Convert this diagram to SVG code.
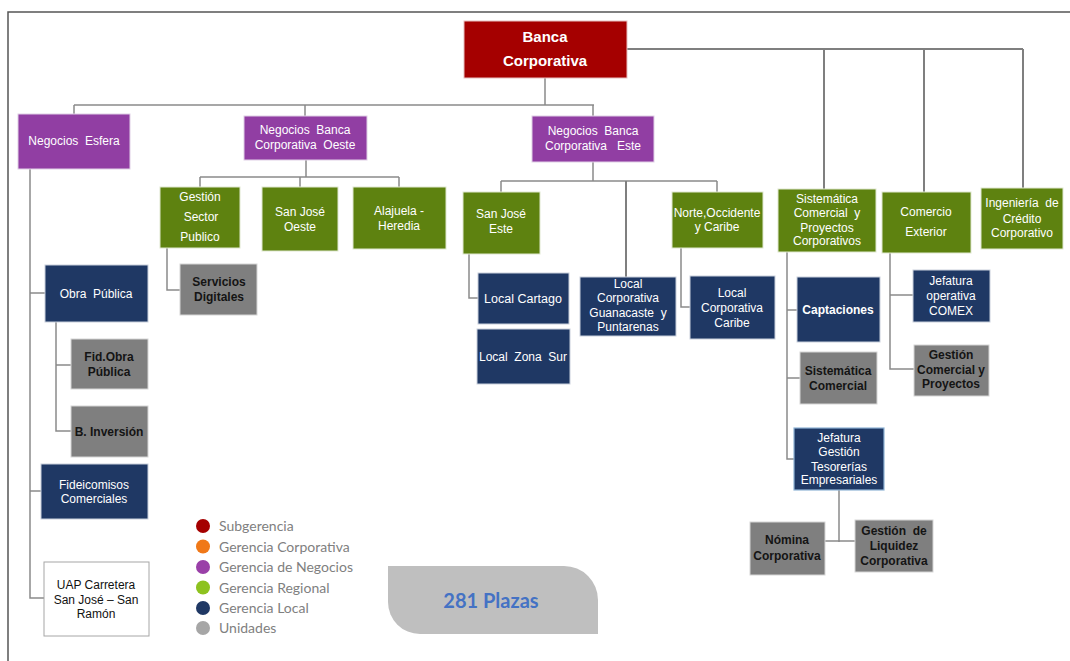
<svg xmlns="http://www.w3.org/2000/svg" width="1070" height="661" viewBox="0 0 1070 661">
<style>
.n text{font-family:"Liberation Sans",Arial,sans-serif;font-size:12px;fill:#fff;text-anchor:middle;white-space:pre}
.n text.b{font-weight:bold;fill:#141414}
.n text.bw{font-weight:bold;fill:#fff}
.red{fill:#A50000;stroke:#e6c0c0;stroke-width:1}
.pur{fill:#913EA3;stroke:#e0d0e6;stroke-width:1}
.grn{fill:#5E8210;stroke:#dfe8cf;stroke-width:1}
.nav{fill:#1F3864;stroke:#c9d0dc;stroke-width:1}
.gry{fill:#7F7F7F;stroke:#d6d6d6;stroke-width:1}
.c path{fill:none;stroke:#8a8a8a;stroke-width:1.5}
.c path.t{stroke:#7f7f7f;stroke-width:2}
.lg text{font-family:Lato,"Open Sans",sans-serif;font-size:14px;fill:#808080}
</style>
<rect width="1070" height="661" fill="#fff"/>
<path d="M8,661 V12 H1070" fill="none" stroke="#555" stroke-width="1.5"/>

<g class="c" id="connectors">
<path class="t" d="M622,49 H1023 M824,49 V190 M924,49 V193 M1023,49 V195"/>
<path d="M545,78 V105 M74,105 H594 M74,105 V114 M305,105 V116 M593,105 V116"/>
<path d="M306,160 V177 M200,177 H399 M200,177 V187 M300,177 V187 M399,177 V187"/>
<path d="M593,162 V181 M501,181 H717 M501,181 V192 M717,181 V192"/>
<path class="t" d="M626,181 V277"/>
<path d="M30,169 V598 H44 M30,293 H45 M30,491 H41"/>
<path d="M56,322 V431 H71 M56,365 H71"/>
<path d="M167,248 V290 H180"/>
<path d="M469,254 V298 H478"/>
<path d="M681,248 V307 H690"/>
<path d="M787,252 V459 H794 M787,310 H797 M787,378 H800"/>
<path d="M890,253 V369 H914 M890,295 H913"/>
<path d="M839,490 V542 M825,541 H855"/>
</g>

<g class="n" id="banca-corporativa"><rect class="red" x="464" y="21" width="163" height="57"/><text class="bw" x="545" y="42" style="font-size:15px">Banca</text><text class="bw" x="545" y="66" style="font-size:15px">Corporativa</text></g>

<g class="n" id="negocios-esfera"><rect class="pur" x="18" y="114" width="112" height="55"/><text x="74" y="145">Negocios  Esfera</text></g>
<g class="n" id="negocios-oeste"><rect class="pur" x="244" y="116" width="123" height="44"/><text x="305" y="134">Negocios  Banca</text><text x="305" y="149">Corporativa  Oeste</text></g>
<g class="n" id="negocios-este"><rect class="pur" x="532" y="116" width="122" height="46"/><text x="593" y="135">Negocios  Banca</text><text x="593" y="149.5">Corporativa   Este</text></g>

<g class="n" id="gestion-sector-publico"><rect class="grn" x="160" y="187" width="80" height="61"/><text x="200" y="201">Gestión</text><text x="201" y="221">Sector</text><text x="200" y="241">Publico</text></g>
<g class="n" id="san-jose-oeste"><rect class="grn" x="262" y="187" width="76" height="64"/><text x="300" y="216">San José</text><text x="300" y="231">Oeste</text></g>
<g class="n" id="alajuela-heredia"><rect class="grn" x="353" y="187" width="93" height="62"/><text x="399" y="215">Alajuela -</text><text x="399" y="230">Heredia</text></g>
<g class="n" id="san-jose-este"><rect class="grn" x="463" y="192" width="77" height="62"/><text x="501" y="218">San José</text><text x="501" y="233">Este</text></g>
<g class="n" id="norte-occidente-caribe"><rect class="grn" x="672" y="192" width="91" height="56"/><text x="717" y="217">Norte,Occidente</text><text x="717" y="231">y Caribe</text></g>
<g class="n" id="sistematica-comercial-proyectos"><rect class="grn" x="778" y="189" width="98" height="63"/><text x="827" y="203">Sistemática</text><text x="827" y="216.5">Comercial  y</text><text x="827" y="231.5">Proyectos</text><text x="827" y="245">Corporativos</text></g>
<g class="n" id="comercio-exterior"><rect class="grn" x="882" y="192" width="89" height="61"/><text x="926" y="215.5">Comercio</text><text x="926" y="235.5">Exterior</text></g>
<g class="n" id="ingenieria-credito"><rect class="grn" x="981" y="188" width="82" height="61"/><text x="1022" y="207">Ingeniería  de</text><text x="1022" y="223">Crédito</text><text x="1022" y="236.5">Corporativo</text></g>

<g class="n" id="obra-publica"><rect class="nav" x="45" y="265" width="103" height="57"/><text x="96" y="298">Obra  Pública</text></g>
<g class="n" id="fid-obra-publica"><rect class="gry" x="71" y="339" width="77" height="50"/><text class="b" x="109" y="361">Fid.Obra</text><text class="b" x="109" y="376">Pública</text></g>
<g class="n" id="b-inversion"><rect class="gry" x="71" y="406" width="77" height="51"/><text class="b" x="109" y="435.5">B. Inversión</text></g>
<g class="n" id="fideicomisos-comerciales"><rect class="nav" x="41" y="464" width="107" height="55"/><text x="94" y="489">Fideicomisos</text><text x="94" y="503">Comerciales</text></g>
<g class="n" id="uap-carretera"><rect x="44" y="562" width="105" height="74" fill="#fff" stroke="#a6a6a6" stroke-width="1"/><text x="96" y="589" style="fill:#111">UAP Carretera</text><text x="96" y="604" style="fill:#111">San José – San</text><text x="96" y="618" style="fill:#111">Ramón</text></g>

<g class="n" id="servicios-digitales"><rect class="gry" x="180" y="264" width="77" height="51"/><text class="b" x="219" y="286">Servicios</text><text class="b" x="219" y="301">Digitales</text></g>
<g class="n" id="local-cartago"><rect class="nav" x="478" y="273" width="91" height="51"/><text x="523" y="302.5" style="font-size:12.5px">Local Cartago</text></g>
<g class="n" id="local-zona-sur"><rect class="nav" x="477" y="329" width="93" height="55"/><text x="523" y="361">Local  Zona  Sur</text></g>
<g class="n" id="local-guanacaste-puntarenas"><rect class="nav" x="580" y="277" width="96" height="59"/><text x="628" y="287.5">Local</text><text x="628" y="302">Corporativa</text><text x="628" y="316.5">Guanacaste  y</text><text x="628" y="330.5">Puntarenas</text></g>
<g class="n" id="local-corporativa-caribe"><rect class="nav" x="690" y="276" width="85" height="63"/><text x="732" y="297">Local</text><text x="732" y="311.5">Corporativa</text><text x="732" y="326.5">Caribe</text></g>
<g class="n" id="captaciones"><rect class="nav" x="797" y="277" width="83" height="65"/><text class="bw" x="838" y="314">Captaciones</text></g>
<g class="n" id="sistematica-comercial"><rect class="gry" x="800" y="352" width="77" height="52"/><text class="b" x="838" y="374.5">Sistemática</text><text class="b" x="838" y="389.5">Comercial</text></g>
<g class="n" id="jefatura-tesorerias"><rect x="794" y="428" width="90" height="62" fill="#1F3864" stroke="#8fb4d6" stroke-width="1.2"/><text x="839" y="441.5">Jefatura</text><text x="839" y="456">Gestión</text><text x="839" y="470.5">Tesorerías</text><text x="839" y="484">Empresariales</text></g>
<g class="n" id="nomina-corporativa"><rect class="gry" x="750" y="522" width="75" height="53"/><text class="b" x="787" y="544">Nómina</text><text class="b" x="787" y="559.5">Corporativa</text></g>
<g class="n" id="gestion-liquidez"><rect class="gry" x="855" y="520" width="78" height="52"/><text class="b" x="894" y="535">Gestión  de</text><text class="b" x="894" y="550">Liquidez</text><text class="b" x="894" y="564.5">Corporativa</text></g>
<g class="n" id="jefatura-comex"><rect class="nav" x="913" y="270" width="77" height="52"/><text x="951" y="284.5">Jefatura</text><text x="951" y="300">operativa</text><text x="951" y="315">COMEX</text></g>
<g class="n" id="gestion-comercial-proyectos"><rect class="gry" x="914" y="345" width="75" height="51"/><text class="b" x="951" y="359">Gestión</text><text class="b" x="951" y="373.5">Comercial y</text><text class="b" x="951" y="388">Proyectos</text></g>

<g class="lg" id="legend">
<circle cx="203" cy="526" r="7" fill="#A50000"/><text x="219" y="531">Subgerencia</text>
<circle cx="203" cy="546.5" r="7" fill="#F07818"/><text x="219" y="551.5">Gerencia Corporativa</text>
<circle cx="203" cy="567" r="7" fill="#9A40A8"/><text x="219" y="572">Gerencia de Negocios</text>
<circle cx="203" cy="587.5" r="7" fill="#8DC21F"/><text x="219" y="592.5">Gerencia Regional</text>
<circle cx="203" cy="608" r="7" fill="#1F3864"/><text x="219" y="613">Gerencia Local</text>
<circle cx="203" cy="628" r="7" fill="#A6A6A6"/><text x="219" y="633">Unidades</text>
</g>

<g id="plazas">
<path d="M388,566 H564 A34,34 0 0 1 598,600 V634 H420 A32,32 0 0 1 388,602 Z" fill="#BFBFBF"/>
<text x="491" y="608" font-family="Lato,'Open Sans',sans-serif" font-size="20" font-weight="bold" fill="#4472C4" text-anchor="middle">281 Plazas</text>
</g>
</svg>
